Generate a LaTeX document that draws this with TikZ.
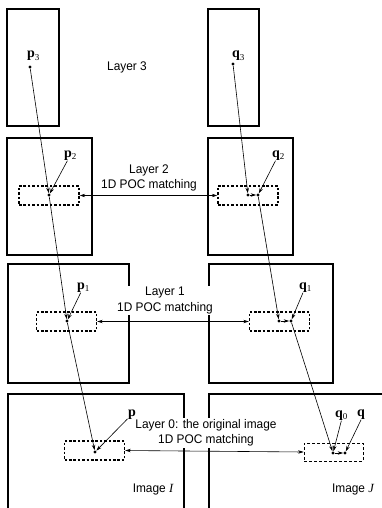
\documentclass[tikz,border=0pt]{standalone}
\usepackage{fontspec}
\setmainfont{Liberation Sans}[FakeStretch=0.95]
\newfontfamily\serifff{Liberation Serif}
\usetikzlibrary{arrows.meta}
\newcommand\vlab[2]{{\serifff\bfseries\fontsize{14}{14}\selectfont #1}{\serifff\fontsize{9}{9}\selectfont\raisebox{-2.8pt}{#2}}}
\tikzset{
  frame/.style={line width=1.8pt},
  poc/.style={draw, line width=1.4pt, dash pattern=on 2.6pt off 1.8pt, inner sep=0, minimum width=60pt, minimum height=19pt},
  pocthin/.style={draw, line width=0.7pt, dash pattern=on 3pt off 2pt, inner sep=0, minimum width=59pt, minimum height=18pt},
  conn/.style={line width=0.6pt, -{Stealth[length=5.5pt,width=3.4pt]}},
  dbl/.style={line width=0.6pt, {Stealth[length=5.5pt,width=3.4pt]}-{Stealth[length=5.5pt,width=3.4pt]}},
  dot/.style={circle, fill, inner sep=0, minimum size=3.2pt},
  lbl/.style={font=\fontsize{12.5}{15.5}\selectfont, align=center, inner sep=1.5pt, fill=white},
  vl/.style={inner sep=0.5pt, anchor=base west},
}
\begin{document}
\begin{tikzpicture}[x=1pt,y=-1pt]
\useasboundingbox (0,0) rectangle (382,508);
\clip (0,0) rectangle (382,508);
% frames
\draw[frame] (7,9) rectangle (59,126);
\draw[frame] (208,9) rectangle (259,126);
\draw[frame] (7,138) rectangle (92,255);
\draw[frame] (208,138) rectangle (293,255);
\draw[frame] (8,264) rectangle (129,383);
\draw[frame] (209,264) rectangle (333,383);
\draw[frame] (8,512) -- (8,394) -- (184,394) -- (184,512);
\draw[frame] (390,394) -- (209,394) -- (209,512);
% POC windows
\node[poc] (L2) at (49,195.5) {};
\node[poc] (R2) at (248,195.5) {};
\node[poc] (L1) at (66.5,321.5) {};
\node[poc] (R1) at (279.5,321.5) {};
\node[poc] (L0) at (94.5,450.5) {};
\node[pocthin] (R0) at (333.5,452) {};
% text labels
\node[lbl] (t3) at (127,67) {Layer 3};
\node[lbl] (t2) at (149,178) {Layer 2\\1D POC matching};
\node[lbl] (t1) at (165,300.5) {Layer 1\\1D POC matching};
\node[lbl] (t0) at (206,433) {Layer 0: the original image\\1D POC matching};
\node[lbl, fill=none] (imI) at (153,489) {Image {\serifff\itshape I}};
\node[lbl, fill=none] (imJ) at (353,489) {Image {\serifff\itshape J}};
% matching arrows
\draw[dbl] (L2.east) -- (R2.west);
\draw[dbl] (L1.east) -- (R1.west);
\draw[dbl] (L0.east) -- (R0.west);
% points
\node[dot] (p3) at (30,67) {};
\node[dot] (p2) at (49,195) {};
\node[dot] (p1) at (67,321) {};
\node[dot] (p0) at (95,452) {};
\node[dot] (q3) at (233,64) {};
\node[dot] (q2a) at (248,195) {};
\node[dot] (q2b) at (258,195) {};
\node[dot] (q1a) at (279,321) {};
\node[dot] (q1b) at (291,321) {};
\node[dot] (q0) at (333,453) {};
\node[dot] (q) at (345,453) {};
% point labels
\node[vl] (lp3) at (26.5,57.5) {\vlab{p}{3}};
\node[vl] (lq3) at (231.5,57.5) {\vlab{q}{3}};
\node[vl] (lp2) at (63.5,157) {\vlab{p}{2}};
\node[vl] (lq2) at (271.5,157) {\vlab{q}{2}};
\node[vl] (lp1) at (76.5,289) {\vlab{p}{1}};
\node[vl] (lq1) at (298.5,289) {\vlab{q}{1}};
\node[vl] (lp0) at (127.5,416) {\vlab{p}{}};
\node[vl] (lq0) at (334.5,417) {\vlab{q}{0}};
\node[vl] (lq) at (356.5,416) {\vlab{q}{}};
% propagation
\draw[conn] (p3) -- (p2);
\draw[conn] (p2) -- (p1);
\draw[conn] (p1) -- (p0);
\draw[conn] (q3) -- (q2a);
\draw[conn] (q2a) -- (q2b);
\draw[conn] (q2b) -- (q1a);
\draw[conn] (q1a) -- (q1b);
\draw[conn] (q1b) -- (q0);
\draw[conn] (q0) -- (q);
% label arrows
\draw[conn] (lp2) -- (p2);
\draw[conn] (lq2) -- (q2b);
\draw[conn] (lp1) -- (p1);
\draw[conn] (lq1) -- (q1b);
\draw[conn] (lp0) -- (p0);
\draw[conn] (lq0.south) -- (q0);
\draw[conn] (lq.south) -- (q);
\end{tikzpicture}
\end{document}
